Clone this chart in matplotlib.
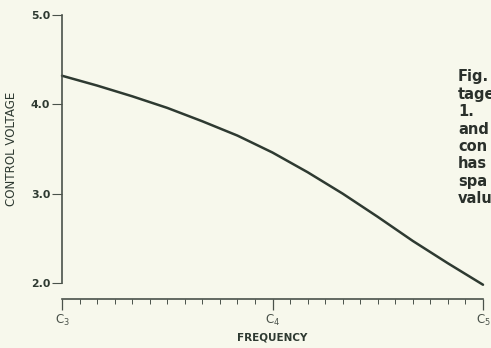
import matplotlib.pyplot as plt
from matplotlib.ticker import MultipleLocator

# control voltage vs. semitones above C3
semitones = [0, 2, 4, 6, 8, 10, 12, 14, 16, 18, 20, 22, 24]
voltage = [4.32, 4.21, 4.09, 3.96, 3.81, 3.65, 3.46, 3.24, 3.00, 2.74, 2.47, 2.22, 1.98]

note_pos = [0, 12, 24]
note_labels = ['C$_3$', 'C$_4$', 'C$_5$']
volt_ticks = [2.0, 3.0, 4.0, 5.0]

caption = ['Fig.', 'tage', '1.', 'and', 'con', 'has', 'spa', 'valu']

bg = '#f7f8ec'
ink = '#2e3a31'
grey = '#4a524a'

fig = plt.figure(figsize=(4.91, 3.48), dpi=100, facecolor=bg)
ax = fig.add_axes([62/491, 49/348, 421/491, 284/348], facecolor=bg)

ax.plot(semitones, voltage, color=ink, lw=1.8, solid_capstyle='round', clip_on=False)

ax.set_xlim(0, 24)
ax.set_ylim(2 - 16/89, 5.0)

for s in ['top', 'right']:
    ax.spines[s].set_visible(False)
ax.spines['left'].set_bounds(2.0, 5.0)
ax.spines['left'].set_color(grey)
ax.spines['left'].set_linewidth(1.2)
ax.spines['bottom'].set_color(grey)
ax.spines['bottom'].set_linewidth(1.2)

ax.set_yticks(volt_ticks)
ax.set_yticklabels([f'{v:.1f}' for v in volt_ticks], fontsize=7.8, color=ink,
                   fontweight='bold')
ax.tick_params(axis='y', direction='out', length=7, width=0.8, color=grey, pad=1.5)

ax.set_xticks(note_pos)
ax.set_xticklabels(note_labels, fontsize=8.5, color=grey)
ax.xaxis.set_minor_locator(MultipleLocator(1))
ax.tick_params(axis='x', which='major', direction='out', length=8, width=0.9,
               color=grey, pad=2)
ax.tick_params(axis='x', which='minor', direction='out', length=3.5, width=0.7,
               color=grey)

fig.text(272/491, 1 - 338/348, 'FREQUENCY', fontsize=7.5, color=ink,
         fontweight='bold', ha='center', va='center')
fig.text(12/491, 1 - 149/348, 'CONTROL VOLTAGE', fontsize=8.6, color=ink,
         rotation=90, ha='center', va='center')

# caption column running off the right edge
for i, word in enumerate(caption):
    fig.text(458/491, 1 - (77 + 17.4*i)/348, word, fontsize=10.5, color='#2a302b',
             fontweight='bold', ha='left', va='center')

fig.savefig('out.png', dpi=100, facecolor=bg)
